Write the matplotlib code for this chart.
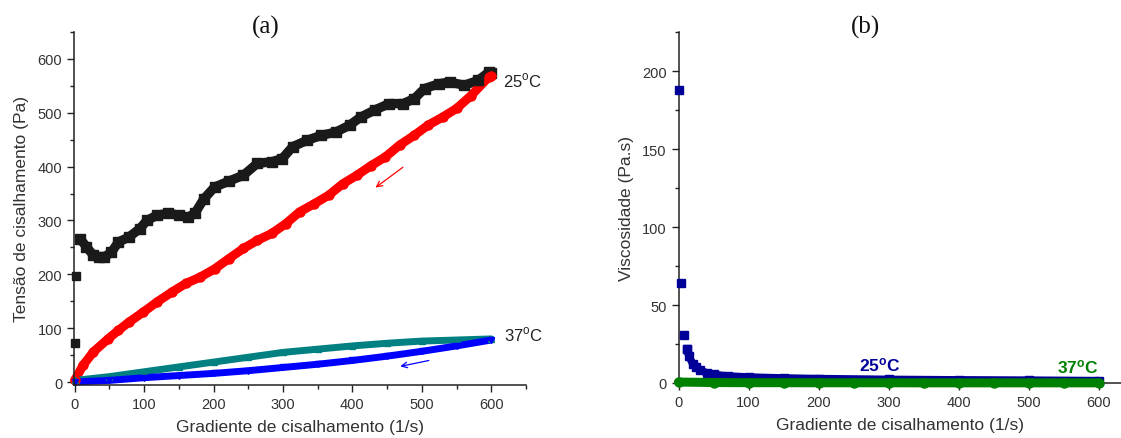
import matplotlib
matplotlib.use("Agg")
import matplotlib.pyplot as plt
from matplotlib.ticker import MultipleLocator

plt.rcParams['font.family'] = ['Liberation Sans', 'DejaVu Sans']
plt.rcParams['mathtext.fontset'] = 'custom'
plt.rcParams['mathtext.rm'] = 'Liberation Sans'
plt.rcParams['mathtext.bf'] = 'Liberation Sans:bold'

# ---- (a) shear stress vs shear rate ----
up25_x = [0.4, 2, 7.7, 17, 27, 35, 42.5, 53, 63, 78, 94, 104, 119, 135, 150, 163, 173,
          186, 201.5, 222, 243, 263, 284, 299, 314, 335, 355, 376, 396, 412, 432, 453,
          473, 489, 504, 525, 540, 561, 581, 596, 599]
up25_y = [73, 197, 266, 251, 235, 232, 232, 241, 260, 269, 285, 300, 310, 313, 310, 306, 313,
          340, 362, 373, 384, 406, 409, 415, 437, 449, 458, 464, 477, 492, 505, 517,
          517, 526, 545, 554, 557, 551, 560, 575, 573]

down25_x = [0, 12, 27, 48, 63, 78, 99, 119, 140, 160, 181, 201.5, 222, 243, 263, 284, 304,
            324, 345, 366, 386, 406.5, 427, 447.5, 468, 489, 509, 530, 550, 571, 596, 599]
down25_y = [3, 31, 56, 80, 96, 111, 130, 149, 167, 183, 195, 210, 229, 248, 263, 276, 294,
            316, 331, 347, 368, 384, 402, 418, 440, 458, 477, 492, 508, 532, 566, 569]

up37_x = [0, 50, 100, 150, 200, 250, 300, 350, 400, 450, 500, 550, 600]
up37_y = [3, 10, 19, 28, 37, 46, 55, 61, 67, 72, 76, 78, 80]

down37_x = [0, 50, 100, 150, 200, 250, 300, 350, 400, 450, 500, 550, 600]
down37_y = [0, 3, 8, 12, 16, 21, 27, 33, 40, 48, 57, 67, 78]

# ---- (b) viscosity vs shear rate ----
visc25_x = [0.4, 3, 8, 12, 15, 20, 25, 30, 40, 50, 70, 100, 150, 200, 300, 400, 500, 600]
visc25_y = [188, 64, 30.5, 21.7, 17, 12.5, 10, 8.5, 6.5, 5.5, 4.5, 3.8, 3.2, 2.8, 2.3, 2.0, 1.8, 1.5]

visc37_x = [0, 50, 100, 150, 200, 250, 300, 350, 400, 450, 500, 550, 600]
visc37_y = [0.6, 0.3, 0.2, 0.2, 0.15, 0.15, 0.15, 0.1, 0.1, 0.1, 0.1, 0.1, 0.1]

W, H = 1121, 439
fig = plt.figure(figsize=(W / 100, H / 100), dpi=100)

axa = fig.add_axes([74 / W, 1 - 385.7 / H, (526 - 74) / W, (385.7 - 33) / H])
axb = fig.add_axes([678.5 / W, 1 - 384 / H, (1121 - 678.5) / W, (384 - 33) / H])

tick_color = '#222222'


def band(ax, x, y, color, marker, ms, lw, z=2):
    """Dense measurement series: a thick stroke with the symbols on top."""
    ax.plot(x, y, color=color, lw=lw, solid_capstyle='round', solid_joinstyle='round',
            zorder=z)
    ax.plot(x, y, ls='none', marker=marker, ms=ms, color=color, mec=color, zorder=z + 0.5)


# first two points of the up curve stand apart as single squares
axa.plot(up25_x[:2], up25_y[:2], ls='none', marker='s', ms=6, color='#1a1a1a', zorder=4)
band(axa, up25_x[2:], up25_y[2:], '#1a1a1a', 's', 6.5, 6.8)
band(axa, down25_x, down25_y, '#ff0000', 'o', 6.5, 6.5)
band(axa, up37_x, up37_y, '#008080', '^', 5, 5)
band(axa, down37_x, down37_y, '#0000ff', 'v', 5, 5)

axa.set_xlim(-1, 650)
axa.set_ylim(-5, 650)
axa.xaxis.set_minor_locator(MultipleLocator(50))
axa.yaxis.set_major_locator(MultipleLocator(100))
axa.yaxis.set_minor_locator(MultipleLocator(50))
axa.set_xticks([0, 100, 200, 300, 400, 500, 600])

axa.annotate('', xy=(430, 358), xytext=(476, 402),
             arrowprops=dict(arrowstyle='->', color='#ff0000', lw=0.9))
axa.annotate('', xy=(465, 28), xytext=(514, 41),
             arrowprops=dict(arrowstyle='->', color='#0000ff', lw=0.9))

axa.text(617, 561, r'25$^{\mathrm{o}}$C', fontsize=12, color='#222222',
         va='center', ha='left', clip_on=False)
axa.text(619, 89, r'37$^{\mathrm{o}}$C', fontsize=12, color='#222222',
         va='center', ha='left', clip_on=False)

axa.set_xlabel('Gradiente de cisalhamento (1/s)', fontsize=12.5, color='#333333', labelpad=6)
axa.set_ylabel('Tensão de cisalhamento (Pa)', fontsize=12.5, color='#333333', labelpad=6)

axb.plot(visc25_x[:4], visc25_y[:4], ls='none', marker='s', ms=6, color='#000099', zorder=4)
band(axb, visc25_x[3:], visc25_y[3:], '#000099', 's', 5.5, 5.5, z=2)
band(axb, visc37_x, visc37_y, '#008000', 'o', 6.5, 6.5, z=5)

axb.set_xlim(0, 632)
axb.set_ylim(0, 225)
axb.xaxis.set_minor_locator(MultipleLocator(50))
axb.yaxis.set_major_locator(MultipleLocator(50))
axb.yaxis.set_minor_locator(MultipleLocator(25))
axb.set_xticks([0, 100, 200, 300, 400, 500, 600])

axb.text(287, 12, r'$\mathbf{25^{o}C}$', fontsize=12.5, color='#000099',
         va='center', ha='center')
axb.text(570, 11, r'$\mathbf{37^{o}C}$', fontsize=12.5, color='#008000',
         va='center', ha='center')

axb.set_xlabel('Gradiente de cisalhamento (1/s)', fontsize=12.5, color='#333333', labelpad=6)
axb.set_ylabel('Viscosidade (Pa.s)', fontsize=12.5, color='#333333', labelpad=6)

for ax in (axa, axb):
    for s in ('top', 'right'):
        ax.spines[s].set_visible(False)
    for s in ('left', 'bottom'):
        ax.spines[s].set_linewidth(1.1)
        ax.spines[s].set_color('#222222')
        ax.spines[s].set_clip_on(False)
    ax.tick_params(which='major', direction='out', length=5, width=1.0, colors=tick_color,
                   labelsize=10.5, labelcolor='#333333')
    ax.tick_params(which='minor', direction='out', length=3, width=1.0, colors=tick_color)
    for line in ax.get_lines():
        line.set_clip_on(False)

fig.text(266 / W, 1 - 27 / H, '(a)', fontsize=18, family='Liberation Serif',
         ha='center', va='center', color='#111111')
fig.text(865 / W, 1 - 27 / H, '(b)', fontsize=18, family='Liberation Serif',
         ha='center', va='center', color='#111111')

fig.savefig('out.png', dpi=100)
